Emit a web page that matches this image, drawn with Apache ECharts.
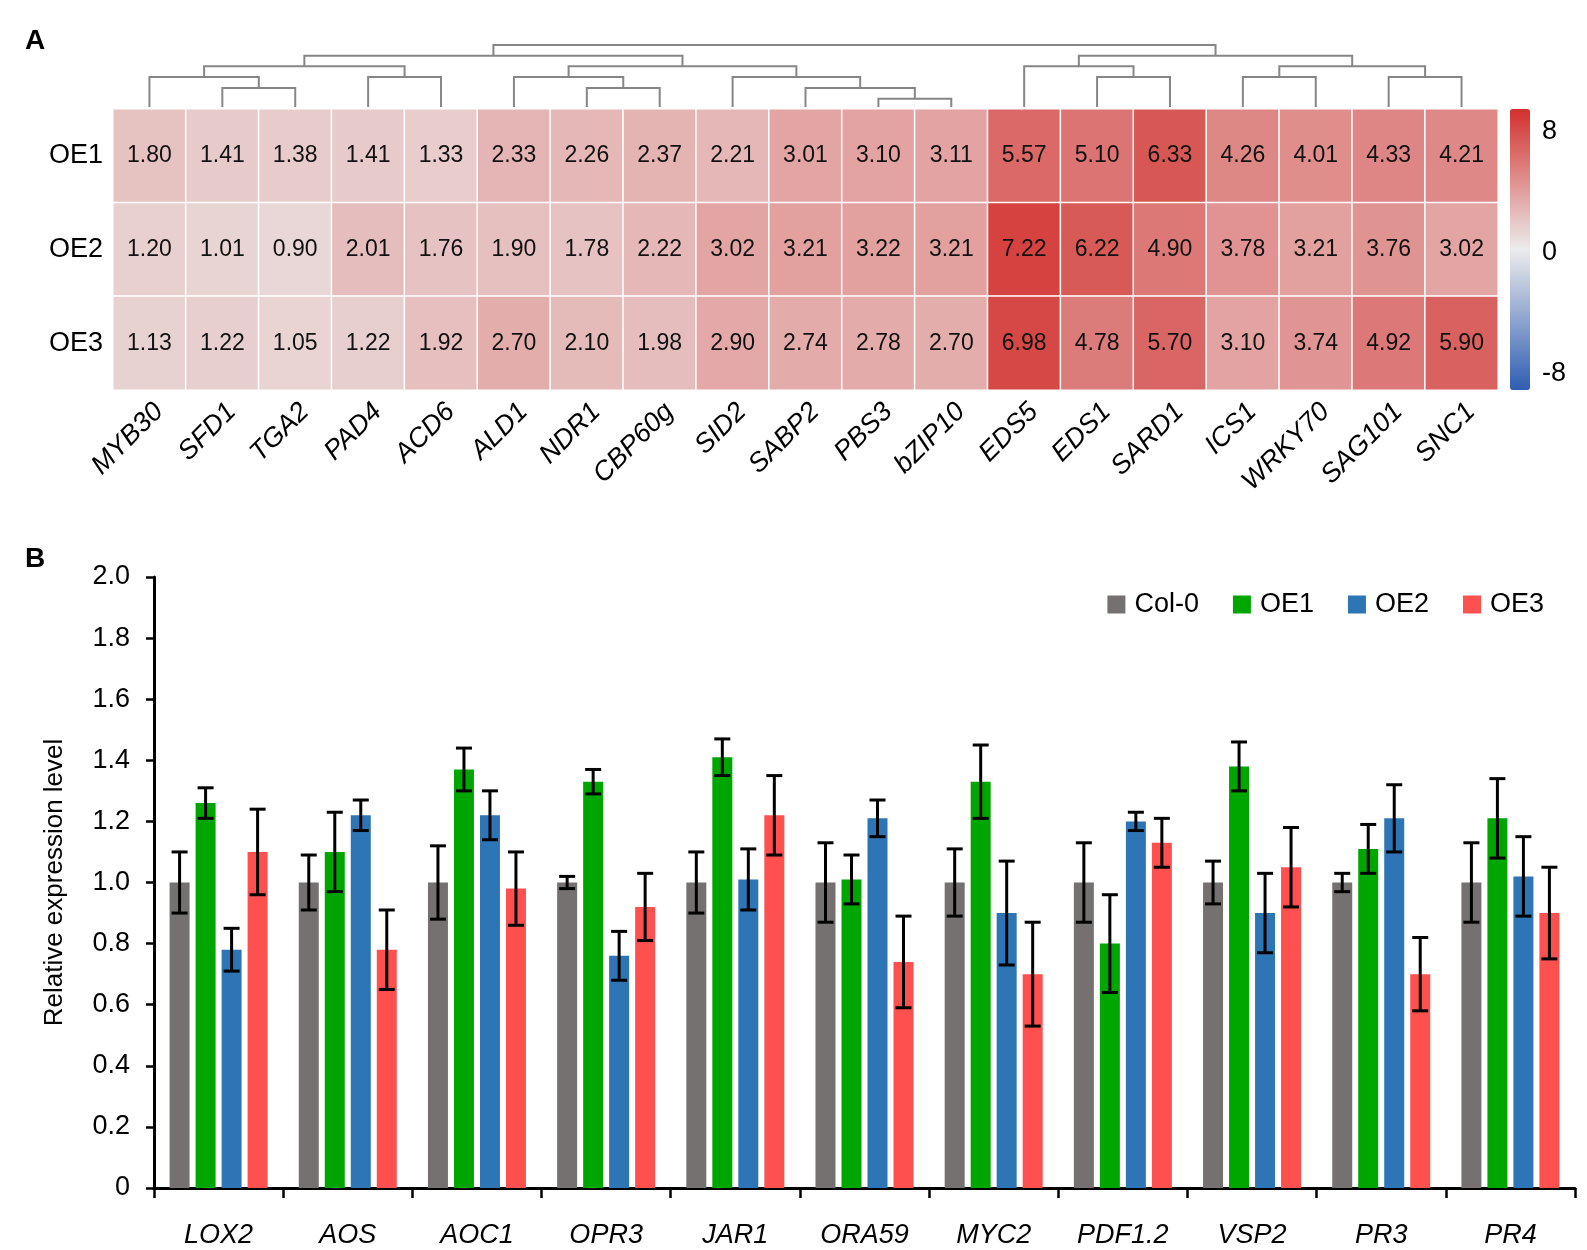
<!DOCTYPE html>
<html>
<head>
<meta charset="utf-8">
<title>SA and JA pathway gene expression</title>
<script src="https://cdn.jsdelivr.net/npm/echarts@6/dist/echarts.min.js"></script>
<style>
  html, body { margin: 0; padding: 0; background: #fff; }
  #chartContainer { width: 1587px; height: 1250px; }
</style>
</head>
<body>
<div id="chartContainer"></div>
<script>
// Panel A: heatmap
const saGenes = ['MYB30', 'SFD1', 'TGA2', 'PAD4', 'ACD6', 'ALD1', 'NDR1', 'CBP60g', 'SID2', 'SABP2',
  'PBS3', 'bZIP10', 'EDS5', 'EDS1', 'SARD1', 'ICS1', 'WRKY70', 'SAG101', 'SNC1'];
const lines = ['OE1', 'OE2', 'OE3'];
const oe1Fold = [1.80, 1.41, 1.38, 1.41, 1.33, 2.33, 2.26, 2.37, 2.21, 3.01, 3.10, 3.11, 5.57, 5.10, 6.33, 4.26, 4.01, 4.33, 4.21];
const oe2Fold = [1.20, 1.01, 0.90, 2.01, 1.76, 1.90, 1.78, 2.22, 3.02, 3.21, 3.22, 3.21, 7.22, 6.22, 4.90, 3.78, 3.21, 3.76, 3.02];
const oe3Fold = [1.13, 1.22, 1.05, 1.22, 1.92, 2.70, 2.10, 1.98, 2.90, 2.74, 2.78, 2.70, 6.98, 4.78, 5.70, 3.10, 3.74, 4.92, 5.90];
const scaleTicks = [-8, 0, 8];

// dendrogram merges: [left node, right node, height]; leaves are 0..18, new clusters get 19, 20, ...
const merges = [
  [1, 2, 1.85], [0, 19, 2.9], [3, 4, 2.9], [20, 21, 3.95],
  [6, 7, 1.85], [5, 23, 2.9], [10, 11, 0.8], [9, 25, 1.85], [8, 26, 2.9], [24, 27, 3.95],
  [22, 28, 4.95],
  [13, 14, 2.9], [12, 30, 3.95], [15, 16, 2.9], [17, 18, 2.9], [32, 33, 3.95], [31, 34, 4.95],
  [29, 35, 6]
];

// Panel B: bars with error bars
const jaGenes = ['LOX2', 'AOS', 'AOC1', 'OPR3', 'JAR1', 'ORA59', 'MYC2', 'PDF1.2', 'VSP2', 'PR3', 'PR4'];
const genotypes = ['Col-0', 'OE1', 'OE2', 'OE3'];
const col0 = [1.00, 1.00, 1.00, 1.00, 1.00, 1.00, 1.00, 1.00, 1.00, 1.00, 1.00];
const col0Err = [0.10, 0.09, 0.12, 0.02, 0.10, 0.13, 0.11, 0.13, 0.07, 0.03, 0.13];
const oe1 = [1.26, 1.10, 1.37, 1.33, 1.41, 1.01, 1.33, 0.80, 1.38, 1.11, 1.21];
const oe1Err = [0.05, 0.13, 0.07, 0.04, 0.06, 0.08, 0.12, 0.16, 0.08, 0.08, 0.13];
const oe2 = [0.78, 1.22, 1.22, 0.76, 1.01, 1.21, 0.90, 1.20, 0.90, 1.21, 1.02];
const oe2Err = [0.07, 0.05, 0.08, 0.08, 0.10, 0.06, 0.17, 0.03, 0.13, 0.11, 0.13];
const oe3 = [1.10, 0.78, 0.98, 0.92, 1.22, 0.74, 0.70, 1.13, 1.05, 0.70, 0.90];
const oe3Err = [0.14, 0.13, 0.12, 0.11, 0.13, 0.15, 0.17, 0.08, 0.13, 0.12, 0.15];

document.addEventListener('DOMContentLoaded', function () {
  const chartContainer = document.getElementById('chartContainer');
  const myChart = echarts.init(chartContainer);

  const font = 'Liberation Sans, Arial, Helvetica, sans-serif';
  const barColors = ['#767171', '#00a600', '#2e75b6', '#ff5050'];
  const barW = 20;
  const gapW = 6;

  // heatmap cells
  const heatData = [];
  [oe1Fold, oe2Fold, oe3Fold].forEach(function (row, r) {
    row.forEach(function (v, c) { heatData.push([c, r, v]); });
  });

  // dendrogram segments from the merge list
  const nodes = saGenes.map(function (g, i) { return { x: i, h: 0 }; });
  const dendroSegs = merges.map(function (m) {
    const a = nodes[m[0]], b = nodes[m[1]];
    nodes.push({ x: (a.x + b.x) / 2, h: m[2] });
    return [a.x, a.h, b.x, b.h, m[2]];
  });

  const means = [col0, oe1, oe2, oe3];
  const errs = [col0Err, oe1Err, oe2Err, oe3Err];

  const barSeries = genotypes.map(function (name, k) {
    return {
      name: name,
      type: 'bar',
      xAxisIndex: 3,
      yAxisIndex: 3,
      barWidth: barW,
      barGap: '30%',
      itemStyle: { color: barColors[k] },
      data: means[k]
    };
  });

  // error bars, shifted to sit on the matching bar of the group
  const errSeries = genotypes.map(function (name, k) {
    return {
      name: name + ' SD',
      type: 'custom',
      xAxisIndex: 3,
      yAxisIndex: 3,
      z: 5,
      encode: { x: 0, y: [1, 2] },
      data: means[k].map(function (v, i) { return [i, v - errs[k][i], v + errs[k][i]]; }),
      renderItem: function (params, api) {
        const top = api.coord([api.value(0), api.value(2)]);
        const bot = api.coord([api.value(0), api.value(1)]);
        const x = top[0] + (k - 1.5) * (barW + gapW);
        const cap = 8;
        const style = { stroke: '#000', lineWidth: 3 };
        return {
          type: 'group',
          children: [
            { type: 'line', shape: { x1: x, y1: top[1], x2: x, y2: bot[1] }, style: style },
            { type: 'line', shape: { x1: x - cap, y1: top[1], x2: x + cap, y2: top[1] }, style: style },
            { type: 'line', shape: { x1: x - cap, y1: bot[1], x2: x + cap, y2: bot[1] }, style: style }
          ]
        };
      }
    };
  });

  myChart.setOption({
    backgroundColor: '#fff',
    textStyle: { fontFamily: font },
    animation: false,
    title: [
      { text: 'A', left: 20, top: 22, textStyle: { fontSize: 28, fontWeight: 'bold', color: '#000', fontFamily: font } },
      { text: 'B', left: 20, top: 540, textStyle: { fontSize: 28, fontWeight: 'bold', color: '#000', fontFamily: font } }
    ],
    legend: {
      data: genotypes,
      top: 586,
      right: 38,
      itemWidth: 18,
      itemHeight: 18,
      itemGap: 34,
      icon: 'rect',
      textStyle: { fontSize: 27, color: '#000', fontFamily: font, padding: [0, 0, 0, 4] }
    },
    visualMap: {
      type: 'continuous',
      seriesIndex: 0,
      min: -8,
      max: 8,
      calculable: false,
      text: null,
      showLabel: false,
      left: 1510,
      top: 109,
      padding: 0,
      itemWidth: 20,
      itemHeight: 281,
      inRange: { color: ['#2f5db3', '#ececec', '#d2302d'] }
    },
    grid: [
      { left: 113, right: 89, top: 109, height: 281 },
      { left: 113, right: 89, top: 45, height: 62 },
      { left: 1510, width: 20, top: 132, height: 242 },
      { left: 154, right: 12, top: 577, bottom: 62 }
    ],
    xAxis: [
      {
        type: 'category', gridIndex: 0, data: saGenes,
        axisLine: { show: false }, axisTick: { show: false },
        axisLabel: {
          rotate: 45, fontSize: 27, fontStyle: 'italic', color: '#000',
          margin: 8, interval: 0, verticalAlign: 'top'
        }
      },
      { type: 'value', gridIndex: 1, min: -0.5, max: saGenes.length - 0.5, show: false },
      { type: 'value', gridIndex: 2, show: false },
      {
        type: 'category', gridIndex: 3, data: jaGenes,
        axisLine: { lineStyle: { color: '#000', width: 3 } },
        axisTick: { show: true, length: 10, lineStyle: { color: '#000', width: 2.5 } },
        axisLabel: { fontSize: 27, fontStyle: 'italic', color: '#000', margin: 34, interval: 0 }
      }
    ],
    yAxis: [
      {
        type: 'category', gridIndex: 0, data: lines, inverse: true,
        axisLine: { show: false }, axisTick: { show: false },
        axisLabel: { fontSize: 27, color: '#000', margin: 10 }
      },
      { type: 'value', gridIndex: 1, min: 0, max: 6, show: false },
      {
        type: 'value', gridIndex: 2, position: 'right', min: scaleTicks[0], max: scaleTicks[2], interval: 8,
        axisLine: { show: false }, axisTick: { show: false }, splitLine: { show: false },
        axisLabel: { fontSize: 27, color: '#000', margin: 12 }
      },
      {
        type: 'value', gridIndex: 3, min: 0, max: 2, interval: 0.2,
        name: 'Relative expression level', nameLocation: 'middle', nameGap: 86, nameRotate: 90,
        nameTextStyle: { fontSize: 26, color: '#000', fontFamily: font },
        axisLine: { show: true, lineStyle: { color: '#000', width: 3 } },
        axisTick: { show: true, length: 8, lineStyle: { color: '#000', width: 2.5 } },
        splitLine: { show: false },
        axisLabel: {
          fontSize: 27, color: '#000', margin: 24,
          formatter: function (v) { return v === 0 ? '0' : v.toFixed(1); }
        }
      }
    ],
    series: [
      {
        type: 'heatmap',
        xAxisIndex: 0,
        yAxisIndex: 0,
        data: heatData,
        itemStyle: { borderColor: '#fff', borderWidth: 1.5 },
        label: {
          show: true, fontSize: 23, color: '#111', fontFamily: font,
          formatter: function (p) { return p.value[2].toFixed(2); }
        },
        emphasis: { disabled: true }
      },
      {
        type: 'custom',
        xAxisIndex: 1,
        yAxisIndex: 1,
        data: dendroSegs,
        encode: { x: [0, 2], y: [1, 3, 4] },
        renderItem: function (params, api) {
          const p1 = api.coord([api.value(0), api.value(1)]);
          const p2 = api.coord([api.value(0), api.value(4)]);
          const p3 = api.coord([api.value(2), api.value(4)]);
          const p4 = api.coord([api.value(2), api.value(3)]);
          return {
            type: 'polyline',
            shape: { points: [p1, p2, p3, p4] },
            style: { stroke: '#868686', lineWidth: 2, fill: null }
          };
        }
      }
    ].concat(barSeries, errSeries)
  });
});
</script>
</body>
</html>
